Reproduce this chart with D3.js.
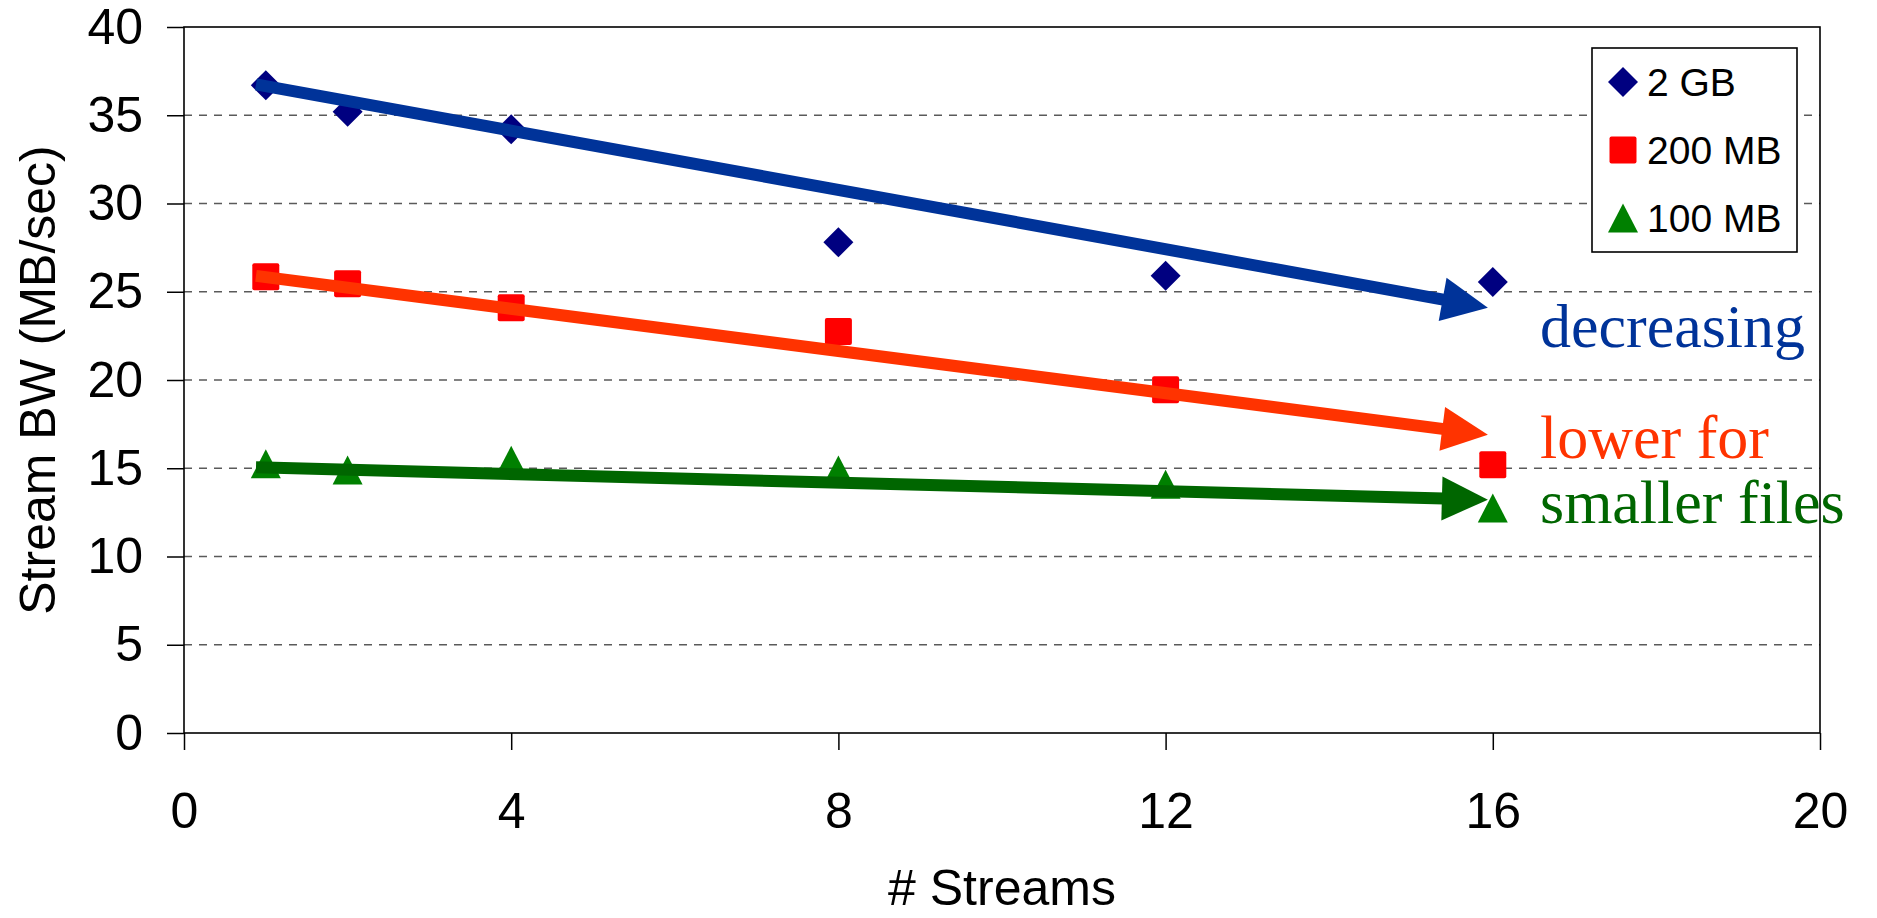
<!DOCTYPE html>
<html>
<head>
<meta charset="utf-8">
<script src="https://cdn.jsdelivr.net/npm/d3@7"></script>
<style>
  body { margin: 0; background: #fff; }
  svg { display: block; }
</style>
</head>
<body>
<svg id="chart"></svg>
<script>
let w = 1877;
let h = 918;

// data
const streams = [1, 2, 4, 8, 12, 16];
const bw2GB = [36.7, 35.2, 34.2, 27.8, 25.9, 25.55];
const bw200MB = [25.85, 25.45, 24.1, 22.75, 19.45, 15.2];
const bw100MB = [15.25, 14.9, 15.45, 14.9, 14.1, 12.75];
const seriesNames = ['2 GB', '200 MB', '100 MB'];

const xTicks = [0, 4, 8, 12, 16, 20];
const yTicks = [0, 5, 10, 15, 20, 25, 30, 35, 40];

// trend arrows: [x0, y0, x1, y1] in data units
const trend2GB = [0.88, 36.75, 15.94, 24.1];
const trend200MB = [0.88, 25.9, 15.94, 16.9];
const trend100MB = [0.88, 15.05, 15.94, 13.22];
const notes = ['decreasing', 'lower for', 'smaller files'];

const markerColors = ['#000080', '#ff0000', '#008000'];
const arrowColors = ['#003399', '#ff3300', '#006600'];

function createGraph() {
    const chart = d3.select('#chart')
        .attr('width', w)
        .attr('height', h)

    const x = d3.scaleLinear().domain([0, 20]).range([184, 1820]);
    const y = d3.scaleLinear().domain([0, 40]).range([733, 27]);

    // dashed grid
    chart.append('g')
        .selectAll('line')
        .data(yTicks.filter(d => d > 0 && d < 40))
        .enter()
        .append('line')
        .attr('x1', x(0))
        .attr('x2', x(20))
        .attr('y1', d => y(d))
        .attr('y2', d => y(d))
        .style('stroke', '#5a5a5a')
        .style('stroke-width', 1.7)
        .style('stroke-dasharray', '8,7')

    // axes
    const yAxis = chart.append('g')
        .attr('transform', `translate(${x(0)},0)`)
        .call(d3.axisLeft(y).tickValues(yTicks).tickSize(17).tickPadding(24))
    const xAxis = chart.append('g')
        .attr('transform', `translate(0,${y(0)})`)
        .call(d3.axisBottom(x).tickValues(xTicks).tickSize(17).tickPadding(42))

    for (const ax of [xAxis, yAxis]) {
        ax.select('.domain').remove();
        ax.selectAll('line').style('stroke', '#000').style('stroke-width', 1.5);
        ax.selectAll('text')
            .style('font-family', 'Liberation Sans, Arial, sans-serif')
            .style('font-size', '50px')
            .style('fill', '#000');
    }

    // frame
    chart.append('rect')
        .attr('x', x(0))
        .attr('y', y(40))
        .attr('width', x(20) - x(0))
        .attr('height', y(0) - y(40))
        .style('fill', 'none')
        .style('stroke', '#000')
        .style('stroke-width', 1.6)

    // axis titles
    chart.append('text')
        .attr('x', (x(0) + x(20)) / 2)
        .attr('y', 905)
        .attr('text-anchor', 'middle')
        .style('font-family', 'Liberation Sans, Arial, sans-serif')
        .style('font-size', '50px')
        .text('# Streams')

    chart.append('text')
        .attr('transform', `translate(55,${(y(0) + y(40)) / 2}) rotate(-90)`)
        .attr('text-anchor', 'middle')
        .style('font-family', 'Liberation Sans, Arial, sans-serif')
        .style('font-size', '50px')
        .text('Stream BW (MB/sec)')

    // marker shapes
    const shapes = [
        'M0,-15L15,0L0,15L-15,0Z',
        'M-13.5,-11.5Q-13.5,-13.5 -11.5,-13.5L11.5,-13.5Q13.5,-13.5 13.5,-11.5L13.5,11.5Q13.5,13.5 11.5,13.5L-11.5,13.5Q-13.5,13.5 -13.5,11.5Z',
        'M0,-14.5L15,14.5L-15,14.5Z'
    ];

    const series = [bw2GB, bw200MB, bw100MB];
    series.forEach((vals, i) => {
        chart.append('g')
            .selectAll('path')
            .data(vals)
            .enter()
            .append('path')
            .attr('d', shapes[i])
            .attr('transform', (d, j) => `translate(${x(streams[j])},${y(d)})`)
            .style('fill', markerColors[i])
    });

    // trend arrows
    const trends = [trend2GB, trend200MB, trend100MB];
    const headLen = 46, headHalf = 22;
    trends.forEach((t, i) => {
        const x0 = x(t[0]), y0 = y(t[1]), x1 = x(t[2]), y1 = y(t[3]);
        const len = Math.hypot(x1 - x0, y1 - y0);
        const ux = (x1 - x0) / len, uy = (y1 - y0) / len;
        const bx = x1 - ux * headLen, by = y1 - uy * headLen;
        chart.append('line')
            .attr('x1', x0).attr('y1', y0)
            .attr('x2', bx + ux * 2).attr('y2', by + uy * 2)
            .style('stroke', arrowColors[i])
            .style('stroke-width', 12)
        chart.append('path')
            .attr('d', `M${x1},${y1}L${bx - uy * headHalf},${by + ux * headHalf}L${bx + uy * headHalf},${by - ux * headHalf}Z`)
            .style('fill', arrowColors[i])
    });

    // notes
    const noteY = [347, 458, 523];
    notes.forEach((n, i) => {
        chart.append('text')
            .attr('x', 1540)
            .attr('y', noteY[i])
            .style('font-family', 'Liberation Serif, Times New Roman, serif')
            .style('font-size', '62px')
            .style('fill', arrowColors[i])
            .text(n)
    });

    // legend
    const legend = chart.append('g');
    legend.append('rect')
        .attr('x', 1592)
        .attr('y', 48)
        .attr('width', 205)
        .attr('height', 204)
        .style('fill', '#fff')
        .style('stroke', '#000')
        .style('stroke-width', 1.6)
    const rowY = [82, 150, 218];
    seriesNames.forEach((name, i) => {
        legend.append('path')
            .attr('d', shapes[i])
            .attr('transform', `translate(1623,${rowY[i]})`)
            .style('fill', markerColors[i])
        legend.append('text')
            .attr('x', 1647)
            .attr('y', rowY[i] + 14)
            .style('font-family', 'Liberation Sans, Arial, sans-serif')
            .style('font-size', '39px')
            .text(name)
    });
}

createGraph();
</script>
</body>
</html>
